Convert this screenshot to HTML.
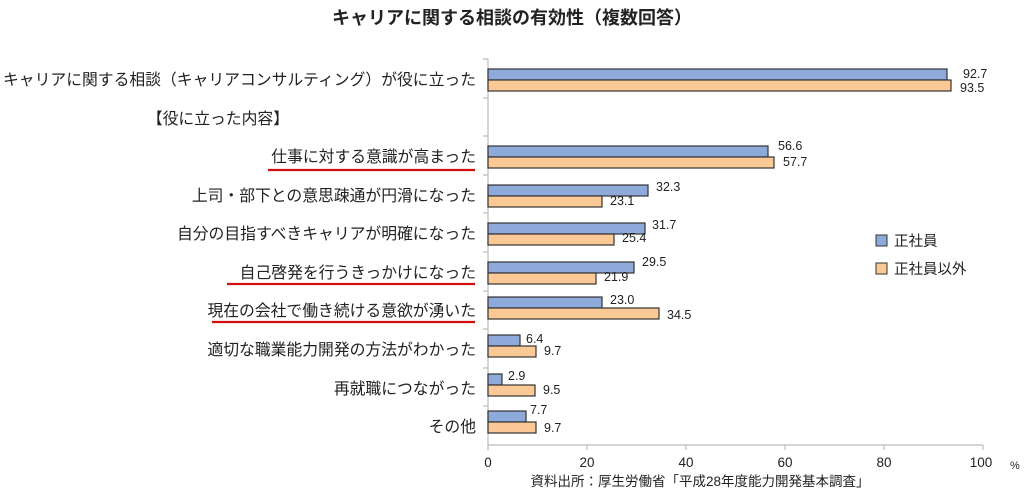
<!DOCTYPE html>
<html><head><meta charset="utf-8"><style>
body{margin:0;background:#fff;}
svg text{font-family:"Liberation Sans","Noto Sans CJK JP",sans-serif;fill:#222;}
</style></head><body>
<svg width="1024" height="495" viewBox="0 0 1024 495" xmlns="http://www.w3.org/2000/svg">
<text x="512" y="24" font-size="18" font-weight="bold" text-anchor="middle">キャリアに関する相談の有効性（複数回答）</text>
<g stroke="#bbb" stroke-width="1.2">
<line x1="488" y1="59" x2="488" y2="445"/>
<line x1="488" y1="445" x2="983" y2="445"/>
<line x1="483" y1="59" x2="488" y2="59"/><line x1="483" y1="98" x2="488" y2="98"/><line x1="483" y1="136" x2="488" y2="136"/><line x1="483" y1="175" x2="488" y2="175"/><line x1="483" y1="213" x2="488" y2="213"/><line x1="483" y1="252" x2="488" y2="252"/><line x1="483" y1="291" x2="488" y2="291"/><line x1="483" y1="329" x2="488" y2="329"/><line x1="483" y1="368" x2="488" y2="368"/><line x1="483" y1="406" x2="488" y2="406"/>
<line x1="488" y1="445" x2="488" y2="450"/><line x1="587" y1="445" x2="587" y2="450"/><line x1="686" y1="445" x2="686" y2="450"/><line x1="785" y1="445" x2="785" y2="450"/><line x1="884" y1="445" x2="884" y2="450"/><line x1="983" y1="445" x2="983" y2="450"/>
</g>
<g font-size="13.5" text-anchor="middle">
<text x="488" y="467">0</text><text x="587" y="467">20</text><text x="686" y="467">40</text><text x="785" y="467">60</text><text x="884" y="467">80</text><text x="981" y="467">100</text>
</g>
<text x="1010" y="469" font-size="11">%</text>
<text x="700" y="486" font-size="13.5" text-anchor="middle">資料出所：厚生労働省「平成28年度能力開発基本調査」</text>
<g font-size="15.8" text-anchor="end">
<text x="476" y="85" textLength="473" lengthAdjust="spacingAndGlyphs">キャリアに関する相談（キャリアコンサルティング）が役に立った</text>
<text x="289" y="124">【役に立った内容】</text>
<text x="476" y="162">仕事に対する意識が高まった</text>
<text x="476" y="201">上司・部下との意思疎通が円滑になった</text>
<text x="476" y="239">自分の目指すべきキャリアが明確になった</text>
<text x="476" y="278">自己啓発を行うきっかけになった</text>
<text x="476" y="316">現在の会社で働き続ける意欲が湧いた</text>
<text x="476" y="355">適切な職業能力開発の方法がわかった</text>
<text x="476" y="394">再就職につながった</text>
<text x="476" y="432">その他</text>
</g>
<g stroke="#d01010" stroke-width="2.2">
<line x1="268" y1="170" x2="475" y2="170"/>
<line x1="227" y1="284" x2="475" y2="284"/>
<line x1="212" y1="322" x2="475" y2="322"/>
</g>
<g stroke="#333" stroke-width="1.2">
<rect x="488" y="69" width="459" height="11" fill="#8eaadb"/><rect x="488" y="80" width="463" height="11" fill="#fbc995"/>
<rect x="488" y="146" width="280" height="11" fill="#8eaadb"/><rect x="488" y="157" width="286" height="11" fill="#fbc995"/>
<rect x="488" y="185" width="160" height="11" fill="#8eaadb"/><rect x="488" y="196" width="114" height="11" fill="#fbc995"/>
<rect x="488" y="223" width="157" height="11" fill="#8eaadb"/><rect x="488" y="234" width="126" height="11" fill="#fbc995"/>
<rect x="488" y="262" width="146" height="11" fill="#8eaadb"/><rect x="488" y="273" width="108" height="11" fill="#fbc995"/>
<rect x="488" y="297" width="114" height="11" fill="#8eaadb"/><rect x="488" y="308" width="171" height="11" fill="#fbc995"/>
<rect x="488" y="335" width="32" height="11" fill="#8eaadb"/><rect x="488" y="346" width="48" height="11" fill="#fbc995"/>
<rect x="488" y="374" width="14" height="11" fill="#8eaadb"/><rect x="488" y="385" width="47" height="11" fill="#fbc995"/>
<rect x="488" y="411" width="38" height="11" fill="#8eaadb"/><rect x="488" y="422" width="48" height="11" fill="#fbc995"/>
</g>
<g font-size="12.5">
<text x="963" y="78">92.7</text><text x="960" y="92">93.5</text>
<text x="778" y="150">56.6</text><text x="783" y="166">57.7</text>
<text x="656" y="191">32.3</text><text x="610" y="205">23.1</text>
<text x="652" y="229">31.7</text><text x="622" y="242">25.4</text>
<text x="642" y="266">29.5</text><text x="604" y="281">21.9</text>
<text x="610" y="304">23.0</text><text x="667" y="319">34.5</text>
<text x="526" y="343">6.4</text><text x="544" y="355">9.7</text>
<text x="508" y="380">2.9</text><text x="543" y="394">9.5</text>
<text x="530" y="414">7.7</text><text x="544" y="432">9.7</text>
</g>
<rect x="876" y="235" width="11" height="11" fill="#8eaadb" stroke="#333"/>
<text x="894" y="246" font-size="14.5">正社員</text>
<rect x="876" y="263" width="11" height="11" fill="#fbc995" stroke="#333"/>
<text x="894" y="274" font-size="14.5">正社員以外</text>
</svg>
</body></html>
